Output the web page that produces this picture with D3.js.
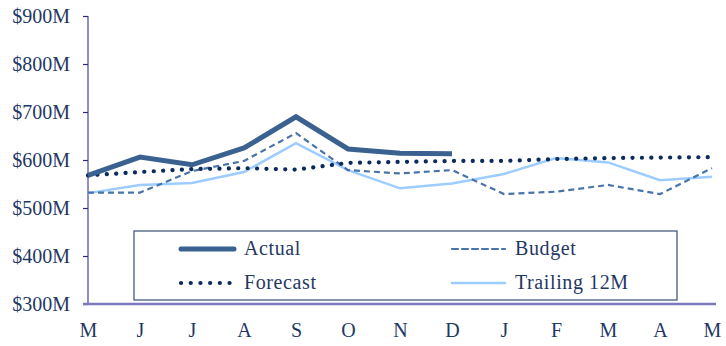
<!DOCTYPE html>
<html>
<head>
<meta charset="utf-8">
<script src="https://cdn.jsdelivr.net/npm/d3@7"></script>
<style>
  html, body { margin: 0; padding: 0; background: #fff; }
  text { font-family: "Liberation Serif", "DejaVu Serif", serif; fill: #1F3864; }
</style>
</head>
<body>
<svg id="chart" width="726" height="346"></svg>
<script>
// data, $M
var months = ["M", "J", "J", "A", "S", "O", "N", "D", "J", "F", "M", "A", "M"];
var yTicks = [300, 400, 500, 600, 700, 800, 900];
var actual   = [568, 606, 590, 625, 690, 623, 614, 613];
var budget   = [532, 532, 577, 598, 656, 579, 572, 579, 529, 534, 548, 529, 583];
var forecast = [568, 575, 581, 583, 580, 594, 596, 598, 598, 602, 604, 605, 606];
var trailing = [531, 548, 552, 575, 635, 579, 541, 551, 571, 604, 595, 558, 565];

var seriesNames = ["Actual", "Budget", "Forecast", "Trailing 12M"];

var svg = d3.select("#chart");

var x = d3.scalePoint().domain(d3.range(months.length)).range([88, 712]);
var y = d3.scaleLinear().domain([300, 900]).range([304, 16]);

var styles = {
  "Actual":       { color: "#3B6191", width: 5,   dash: null,      cap: "butt" },
  "Budget":       { color: "#4A73AA", width: 2.2, dash: "6,4",     cap: "butt" },
  "Forecast":     { color: "#0C2B5C", width: 4.2, dash: "0.1,9.3", cap: "round" },
  "Trailing 12M": { color: "#9DCCFF", width: 2.5, dash: null,      cap: "butt" }
};

// y axis
var yAxis = d3.axisLeft(y).tickValues(yTicks).tickSize(5).tickPadding(13)
  .tickFormat(function(d){ return "$" + d + "M"; });
var gy = svg.append("g").attr("transform", "translate(88,0)").call(yAxis);
gy.select(".domain").attr("stroke", "#6E68B4").attr("stroke-width", 1.5).attr("d", "M0,16V304");
gy.selectAll(".tick line").attr("stroke", "#2E2A8C").attr("stroke-width", 1.2);
gy.selectAll(".tick text").attr("font-size", 20).attr("fill", "#1F3864")
  .style("font-family", "'Liberation Serif', serif");

// x axis
var xAxis = d3.axisBottom(x).tickSize(0).tickPadding(19)
  .tickFormat(function(i){ return months[i]; });
var gx = svg.append("g").attr("transform", "translate(0,304)").call(xAxis);
gx.select(".domain").attr("stroke", "#7C78BE").attr("stroke-width", 2.4).attr("d", "M83,0H716");
gx.selectAll(".tick text").attr("font-size", 20).attr("fill", "#1F3864")
  .style("font-family", "'Liberation Serif', serif");

var line = d3.line().x(function(d, i){ return x(i); }).y(function(d){ return y(d); });

function drawSeries(name, values) {
  var s = styles[name];
  svg.append("path").datum(values)
    .attr("d", line)
    .attr("fill", "none")
    .attr("stroke", s.color)
    .attr("stroke-width", s.width)
    .attr("stroke-linecap", s.cap)
    .attr("stroke-linejoin", "miter")
    .attr("stroke-dasharray", s.dash);
}
drawSeries("Trailing 12M", trailing);
drawSeries("Budget", budget);
drawSeries("Forecast", forecast);
drawSeries("Actual", actual);

/*Legend*/
var legend = svg.append("g");
legend.append("rect").attr("x", 134).attr("y", 231).attr("width", 543).attr("height", 69)
  .attr("fill", "#fff").attr("stroke", "#3A4E72").attr("stroke-width", 1.2);
var legendPos = {
  "Actual":       [181, 249],
  "Budget":       [452, 249],
  "Forecast":     [181, 283],
  "Trailing 12M": [452, 283]
};
seriesNames.forEach(function(name){
  var s = styles[name], p = legendPos[name];
  legend.append("line")
    .attr("x1", p[0]).attr("x2", p[0] + 53).attr("y1", p[1]).attr("y2", p[1])
    .attr("stroke", s.color).attr("stroke-width", s.width)
    .attr("stroke-linecap", "round")
    .attr("stroke-dasharray", name === "Forecast" ? "0.1,9.6" : s.dash);
  legend.append("text")
    .attr("x", p[0] + 63).attr("y", p[1] + 6)
    .attr("font-size", 20)
    .attr("letter-spacing", 0.6)
    .text(name);
});
</script>
</body>
</html>
